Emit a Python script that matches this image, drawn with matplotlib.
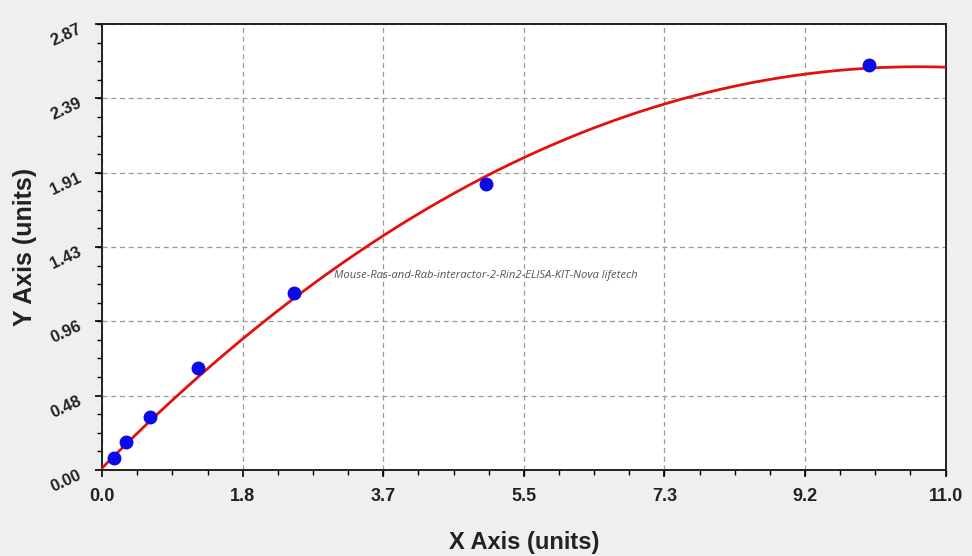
import numpy as np
import matplotlib
matplotlib.use("Agg")
import matplotlib.pyplot as plt
from matplotlib.ticker import FixedLocator, AutoMinorLocator
from matplotlib.transforms import ScaledTranslation

# Standard points
conc = [0.156, 0.312, 0.625, 1.25, 2.5, 5.0, 10.0]
od = [0.075, 0.176, 0.339, 0.654, 1.141, 1.84, 2.606]

# fitted curve (smoothed below with a cubic fit)
curve_x = [0.0, 0.6, 1.25, 1.83, 2.5, 3.3, 3.67, 4.6, 5.49, 6.4, 7.31, 8.45, 9.19, 9.98, 10.75, 11.0]
curve_y = [0.013, 0.30, 0.592, 0.837, 1.115, 1.40, 1.50, 1.78, 2.006, 2.19, 2.35, 2.492, 2.552, 2.591, 2.595, 2.585]

x_ticks = [0.0, 1.833, 3.667, 5.5, 7.333, 9.167, 11.0]
x_labels = ["0.0", "1.8", "3.7", "5.5", "7.3", "9.2", "11.0"]
y_ticks = [0.0, 0.478, 0.957, 1.435, 1.913, 2.392, 2.87]
y_labels = ["0.00", "0.48", "0.96", "1.43", "1.91", "2.39", "2.87"]

watermark = "Mouse-Ras-and-Rab-interactor-2-Rin2-ELISA-KIT-Nova lifetech"

plt.rcParams["font.family"] = ["Liberation Sans", "DejaVu Sans"]

fig = plt.figure(figsize=(9.72, 5.56), dpi=100, facecolor="#efefef")
ax = fig.add_axes([0.105, 0.155, 0.868, 0.802])
ax.set_facecolor("white")

coef = np.polyfit(curve_x, curve_y, 3)
xs = np.linspace(curve_x[0], curve_x[-1], 300)
ax.plot(xs, np.polyval(coef, xs), color="#e31010", lw=2.0, zorder=3)
ax.plot(conc, od, "o", color="#0a0ae6", ms=9, zorder=4)

ax.set_xlim(0, 11.0)
ax.set_ylim(0, 2.87)
ax.xaxis.set_major_locator(FixedLocator(x_ticks))
ax.yaxis.set_major_locator(FixedLocator(y_ticks))
ax.set_xticklabels(x_labels, fontsize=13, fontweight="bold", color="#222222")
ax.set_yticklabels(y_labels, fontsize=12, fontweight="bold", color="#222222", rotation=25)
ax.xaxis.set_minor_locator(AutoMinorLocator(4))
ax.yaxis.set_minor_locator(AutoMinorLocator(4))
ax.tick_params(which="major", length=5, width=1.2, direction="out")
ax.tick_params(which="minor", length=3.5, width=1.0, direction="out")
ax.tick_params(axis="x", pad=8)
ax.tick_params(axis="y", pad=8)

# y labels sit a little below their ticks in the original
shift = ScaledTranslation(0, -2.5 / 72, fig.dpi_scale_trans)
for lab in ax.get_yticklabels():
    lab.set_transform(lab.get_transform() + shift)

ax.grid(True, which="major", color="#9a9a9a", linestyle=(0, (4, 3)), lw=0.9)
for s in ax.spines.values():
    s.set_linewidth(1.4)
    s.set_color("#222222")

ax.set_xlabel("X Axis (units)", fontsize=17, fontweight="bold", labelpad=19, color="#222222")
ax.set_ylabel("Y Axis (units)", fontsize=18, fontweight="bold", labelpad=8, color="#222222")

ax.text(3.02, 1.248, watermark, fontsize=8.1, style="italic", color="#555555",
        va="center", ha="left", family=["Open Sans", "DejaVu Sans"])

fig.savefig("out.png", dpi=100, facecolor=fig.get_facecolor())
